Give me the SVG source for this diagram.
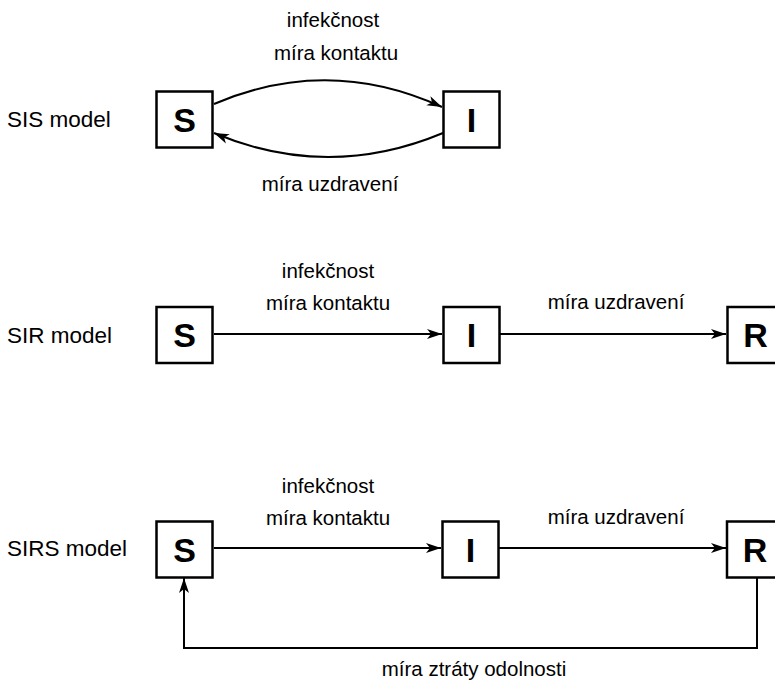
<svg xmlns="http://www.w3.org/2000/svg" width="775" height="681" viewBox="0 0 775 681">
<style>
.box{fill:#fff;stroke:#000;stroke-width:2.5}
.let{font-family:"Liberation Sans",Arial,sans-serif;font-weight:bold;font-size:34px;text-anchor:middle;fill:#000}
.lbl{font-family:"Liberation Sans",Arial,sans-serif;font-size:20.5px;text-anchor:middle;fill:#000}
.mdl{font-family:"Liberation Sans",Arial,sans-serif;font-size:22.5px;fill:#000}
.con{fill:none;stroke:#000;stroke-width:2}
</style>
<defs>
<marker id="arr" markerUnits="userSpaceOnUse" markerWidth="16" markerHeight="12" refX="15" refY="5" orient="auto" overflow="visible">
<path d="M0,0 L15,5 L0,10 L4,5 z" fill="#000"/>
</marker>
</defs>
<rect width="775" height="681" fill="#fff"/>
<g id="labels">
<text class="mdl" x="7" y="127">SIS model</text>
<text class="mdl" x="7" y="343">SIR model</text>
<text class="mdl" x="7" y="556">SIRS model</text>
<text class="lbl" x="333" y="27">infekčnost</text>
<text class="lbl" x="336" y="60">míra kontaktu</text>
<text class="lbl" x="330" y="191">míra uzdravení</text>
<text class="lbl" x="328" y="278">infekčnost</text>
<text class="lbl" x="328" y="310">míra kontaktu</text>
<text class="lbl" x="616" y="309">míra uzdravení</text>
<text class="lbl" x="328" y="493">infekčnost</text>
<text class="lbl" x="328" y="525">míra kontaktu</text>
<text class="lbl" x="616" y="524">míra uzdravení</text>
<text class="lbl" x="474" y="676">míra ztráty odolnosti</text>
</g>
<g id="connectors">
<path class="con" d="M214,104 Q328,55 442,107" marker-end="url(#arr)"/>
<path class="con" d="M443,133 Q328,181 214,133" marker-end="url(#arr)"/>
<path class="con" d="M214,334 L442,334" marker-end="url(#arr)"/>
<path class="con" d="M500,334 L726,334" marker-end="url(#arr)"/>
<path class="con" d="M214,548 L441,548" marker-end="url(#arr)"/>
<path class="con" d="M499,548 L726,548" marker-end="url(#arr)"/>
<path class="con" d="M757,578 L757,648 L184,648 L184,578" marker-end="url(#arr)"/>
</g>
<g id="sis-S"><rect class="box" x="156.5" y="91.5" width="56" height="56"/><text class="let" x="184.5" y="131.5">S</text></g>
<g id="sis-I"><rect class="box" x="443.5" y="91.5" width="56" height="56"/><text class="let" x="471.5" y="131.5">I</text></g>
<g id="sir-S"><rect class="box" x="156.5" y="307" width="56" height="56"/><text class="let" x="184.5" y="347">S</text></g>
<g id="sir-I"><rect class="box" x="443.5" y="307" width="56" height="56"/><text class="let" x="471.5" y="347">I</text></g>
<g id="sir-R"><rect class="box" x="727.5" y="307" width="56" height="56"/><text class="let" x="755.5" y="347">R</text></g>
<g id="sirs-S"><rect class="box" x="156.5" y="521.5" width="56" height="56"/><text class="let" x="184.5" y="561.5">S</text></g>
<g id="sirs-I"><rect class="box" x="442.5" y="521.5" width="56" height="56"/><text class="let" x="470.5" y="561.5">I</text></g>
<g id="sirs-R"><rect class="box" x="727" y="521.5" width="56" height="56"/><text class="let" x="755" y="561.5">R</text></g>
</svg>
